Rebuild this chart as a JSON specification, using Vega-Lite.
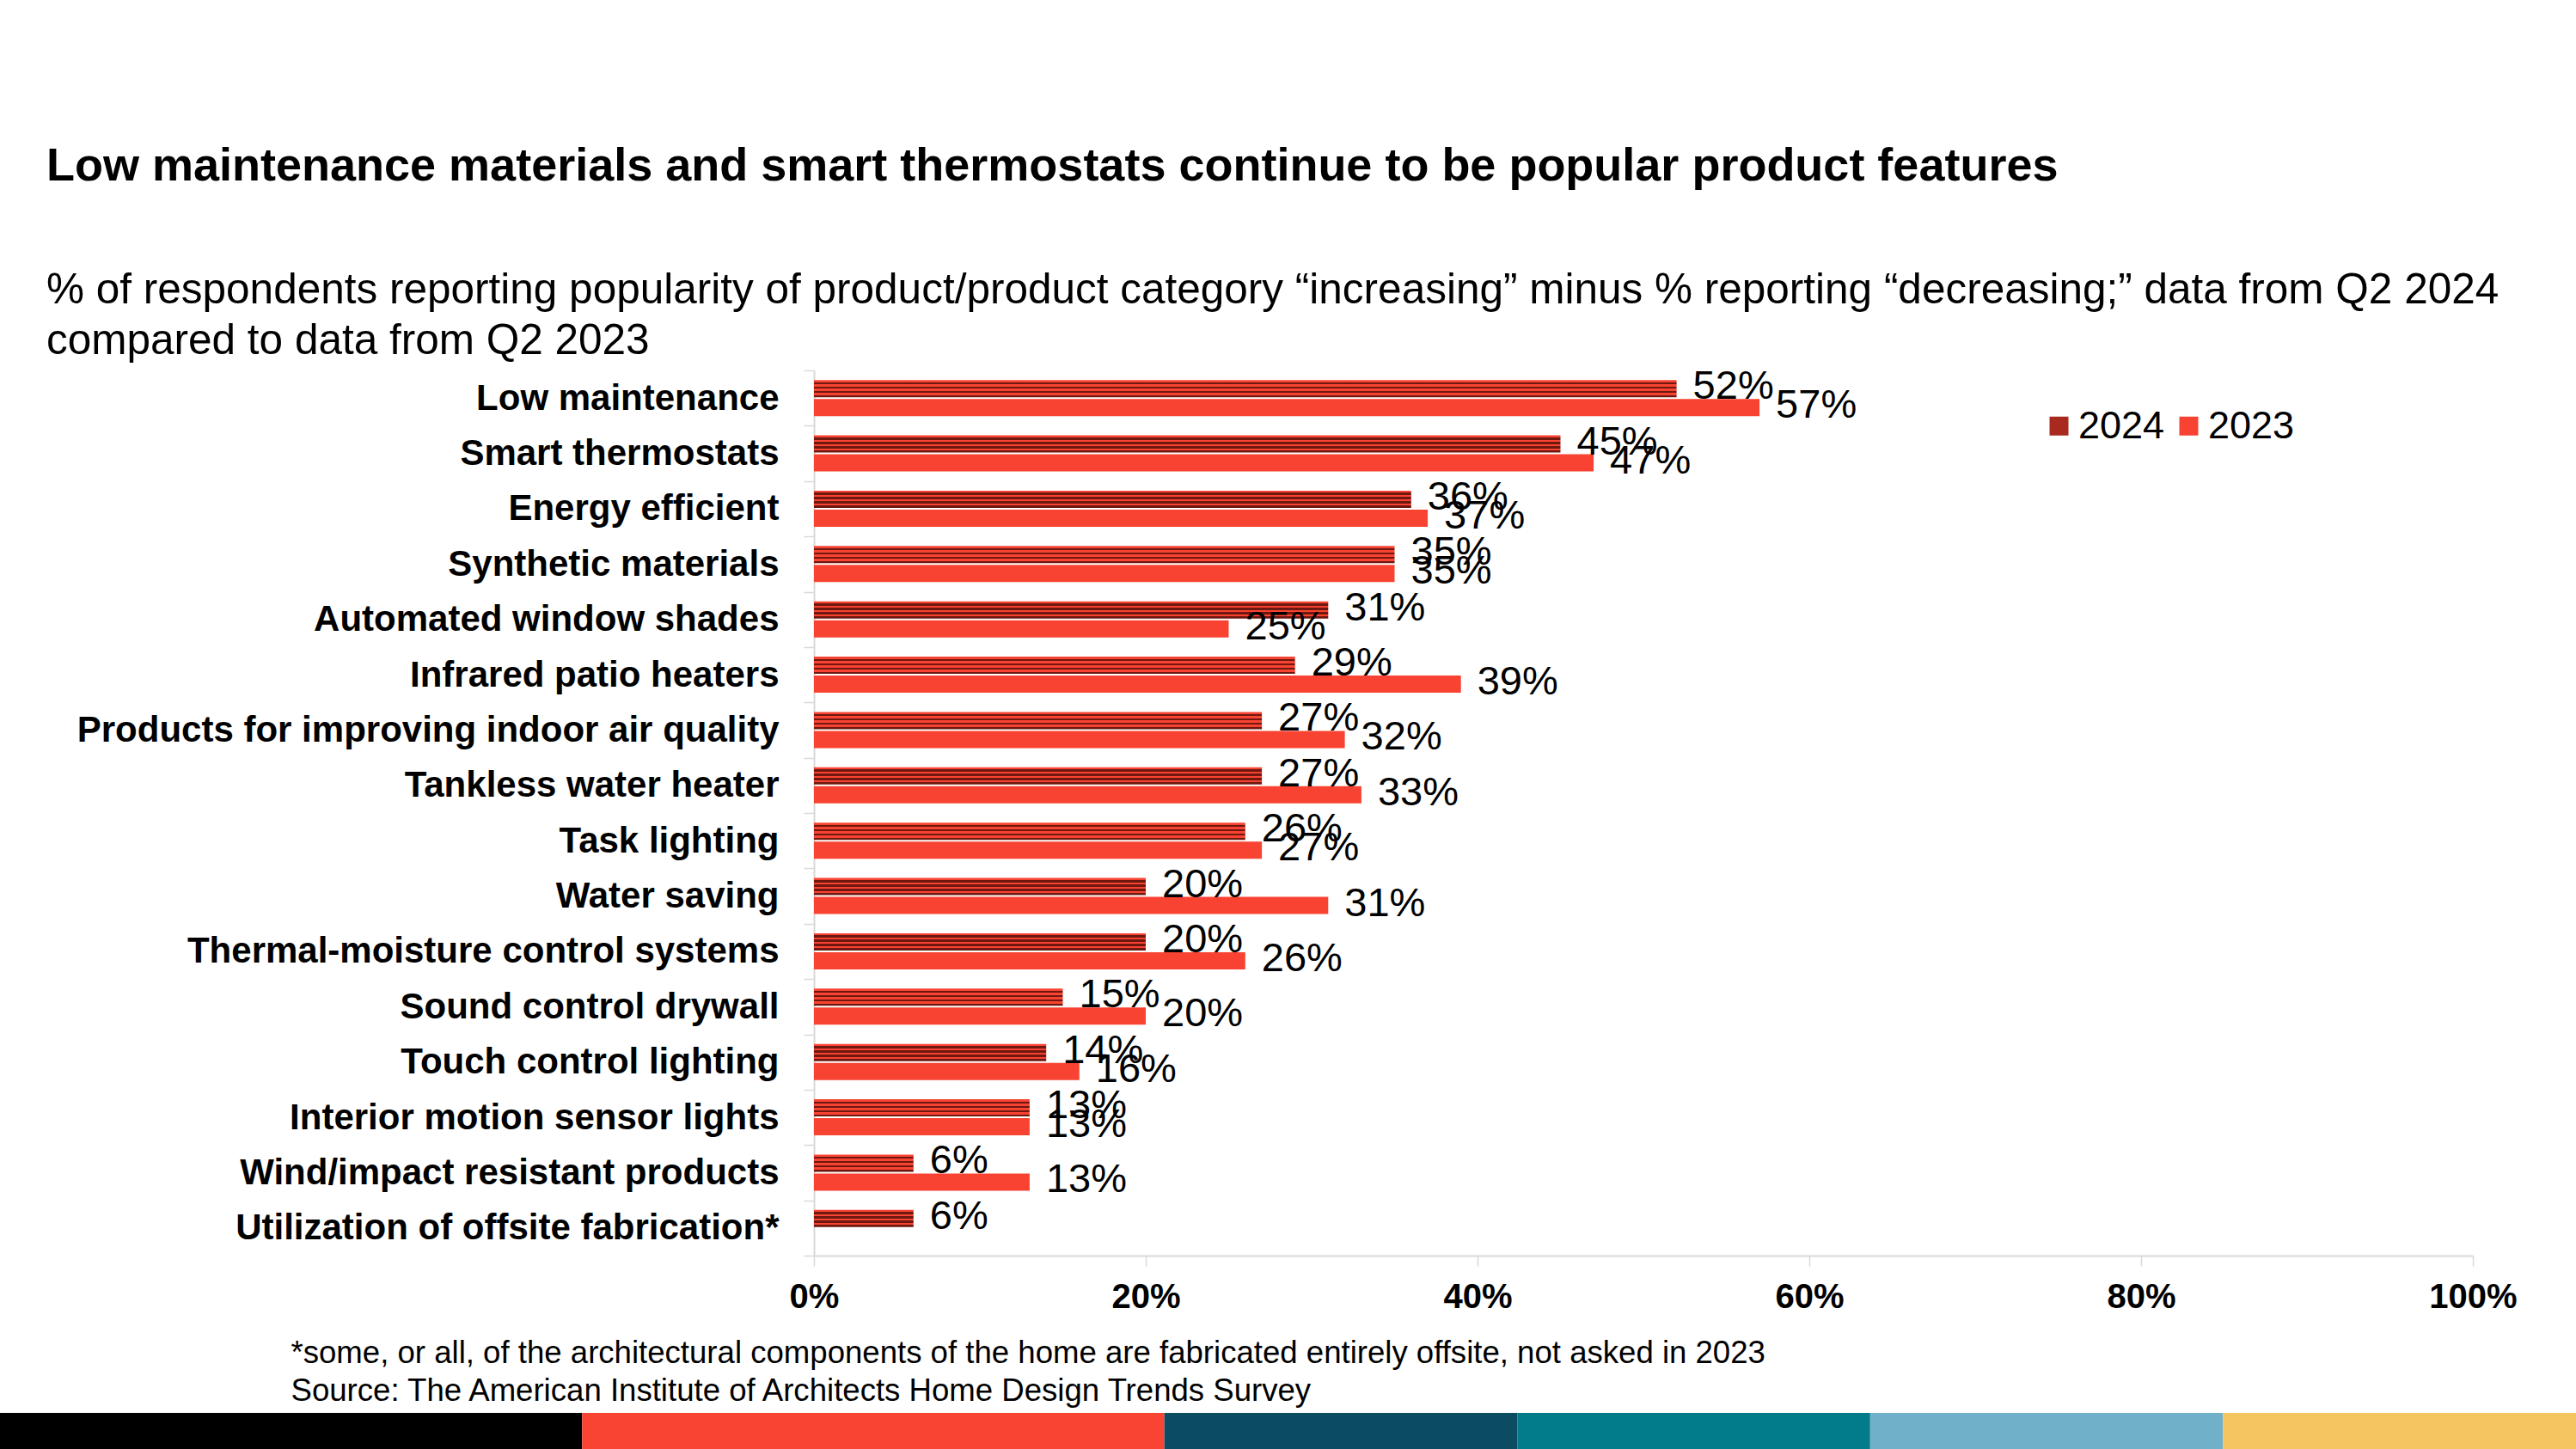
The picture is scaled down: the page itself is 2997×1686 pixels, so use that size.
{
  "$schema": "https://vega.github.io/schema/vega-lite/v6.json",
  "background": "white",
  "padding": {"left": 0, "top": 166, "right": 0, "bottom": 0},
  "spacing": 7,
  "config": {"view": {"stroke": null}, "font": "Liberation Sans"},
  "vconcat": [
    {
      "width": 2877,
      "height": 1030,
      "title": {
        "text": "Low maintenance materials and smart thermostats continue to be popular product features",
        "subtitle": ["% of respondents reporting popularity of product/product category “increasing” minus % reporting “decreasing;” data from Q2 2024", "compared to data from Q2 2023"],
        "anchor": "start",
        "frame": "group",
        "dx": 54,
        "font": "Liberation Sans",
        "fontSize": 54,
        "fontWeight": "bold",
        "color": "#000000",
        "subtitleFont": "Liberation Sans",
        "subtitleFontSize": 49.5,
        "subtitleColor": "#000000",
        "subtitlePadding": 93,
        "subtitleLineHeight": 59,
        "offset": -11
      },
      "data": {
        "values": [
          {"cat": "Low maintenance", "year": "2024", "value": 0.52},
          {"cat": "Low maintenance", "year": "2023", "value": 0.57},
          {"cat": "Smart thermostats", "year": "2024", "value": 0.45},
          {"cat": "Smart thermostats", "year": "2023", "value": 0.47},
          {"cat": "Energy efficient", "year": "2024", "value": 0.36},
          {"cat": "Energy efficient", "year": "2023", "value": 0.37},
          {"cat": "Synthetic materials", "year": "2024", "value": 0.35},
          {"cat": "Synthetic materials", "year": "2023", "value": 0.35},
          {"cat": "Automated window shades", "year": "2024", "value": 0.31},
          {"cat": "Automated window shades", "year": "2023", "value": 0.25},
          {"cat": "Infrared patio heaters", "year": "2024", "value": 0.29},
          {"cat": "Infrared patio heaters", "year": "2023", "value": 0.39},
          {"cat": "Products for improving indoor air quality", "year": "2024", "value": 0.27},
          {"cat": "Products for improving indoor air quality", "year": "2023", "value": 0.32},
          {"cat": "Tankless water heater", "year": "2024", "value": 0.27},
          {"cat": "Tankless water heater", "year": "2023", "value": 0.33},
          {"cat": "Task lighting", "year": "2024", "value": 0.26},
          {"cat": "Task lighting", "year": "2023", "value": 0.27},
          {"cat": "Water saving", "year": "2024", "value": 0.20},
          {"cat": "Water saving", "year": "2023", "value": 0.31},
          {"cat": "Thermal-moisture control systems", "year": "2024", "value": 0.20},
          {"cat": "Thermal-moisture control systems", "year": "2023", "value": 0.26},
          {"cat": "Sound control drywall", "year": "2024", "value": 0.15},
          {"cat": "Sound control drywall", "year": "2023", "value": 0.20},
          {"cat": "Touch control lighting", "year": "2024", "value": 0.14},
          {"cat": "Touch control lighting", "year": "2023", "value": 0.16},
          {"cat": "Interior motion sensor lights", "year": "2024", "value": 0.13},
          {"cat": "Interior motion sensor lights", "year": "2023", "value": 0.13},
          {"cat": "Wind/impact resistant products", "year": "2024", "value": 0.06},
          {"cat": "Wind/impact resistant products", "year": "2023", "value": 0.13},
          {"cat": "Utilization of offsite fabrication*", "year": "2024", "value": 0.06}
        ]
      },
      "layer": [
        {
          "mark": {"type": "bar"},
          "encoding": {
            "x": {
              "field": "value",
              "type": "quantitative",
              "scale": {"domain": [0, 1], "nice": false, "range": [947, 2877]},
              "axis": {
                "format": ".0%",
                "values": [0, 0.2, 0.4, 0.6, 0.8, 1],
                "grid": false,
                "labelFlush": false,
                "domainColor": "#d9d9d9",
                "domainWidth": 2,
                "tickColor": "#d9d9d9",
                "tickSize": 12,
                "tickWidth": 1.5,
                "labelFont": "Liberation Sans",
                "labelFontWeight": "bold",
                "labelFontSize": 40,
                "labelColor": "#000000",
                "labelPadding": 16,
                "title": ["*some, or all, of the architectural components of the home are fabricated entirely offsite, not asked in 2023", "Source: The American Institute of Architects Home Design Trends Survey"],
                "titleX": 338,
                "titleY": 95,
                "titleAlign": "left",
                "titleAnchor": "start",
                "titleBaseline": "top",
                "titleFont": "Liberation Sans",
                "titleFontSize": 36.6,
                "titleFontWeight": "normal",
                "titleColor": "#000000",
                "titleLineHeight": 44
              }
            },
            "y": {
              "field": "cat",
              "type": "nominal",
              "sort": null,
              "scale": {"paddingInner": 0, "paddingOuter": 0},
              "axis": {
                "title": null,
                "offset": -947,
                "domainColor": "#d9d9d9",
                "domainWidth": 2,
                "tickColor": "#d9d9d9",
                "tickSize": 12,
                "tickWidth": 1.5,
                "tickBand": "extent",
                "labelFont": "Liberation Sans",
                "labelFontWeight": "bold",
                "labelFontSize": 42,
                "labelColor": "#000000",
                "labelPadding": 29,
                "labelLimit": 1500
              }
            },
            "yOffset": {
              "field": "year",
              "type": "nominal",
              "sort": ["2024", "2023"],
              "scale": {"paddingInner": 0.0909, "paddingOuter": 0.511}
            },
            "fill": {
              "condition": {
                "test": "datum.year === '2024'",
                "value": {
                  "gradient": "linear",
                  "x1": 0, "y1": 0, "x2": 0, "y2": 1,
                  "stops": [
                    {"offset": 0, "color": "#f94332"},
                    {"offset": 0.125, "color": "#f94332"},
                    {"offset": 0.125, "color": "#6e1810"},
                    {"offset": 0.25, "color": "#6e1810"},
                    {"offset": 0.25, "color": "#f94332"},
                    {"offset": 0.375, "color": "#f94332"},
                    {"offset": 0.375, "color": "#6e1810"},
                    {"offset": 0.5, "color": "#6e1810"},
                    {"offset": 0.5, "color": "#f94332"},
                    {"offset": 0.625, "color": "#f94332"},
                    {"offset": 0.625, "color": "#6e1810"},
                    {"offset": 0.75, "color": "#6e1810"},
                    {"offset": 0.75, "color": "#f94332"},
                    {"offset": 0.875, "color": "#f94332"},
                    {"offset": 0.875, "color": "#6e1810"},
                    {"offset": 1, "color": "#6e1810"}
                  ]
                }
              },
              "field": "year",
              "type": "nominal",
              "sort": ["2024", "2023"],
              "scale": {"domain": ["2024", "2023"], "range": ["#a82a1e", "#f94332"]},
              "legend": {
                "title": null,
                "orient": "none",
                "legendX": 2373,
                "legendY": 42,
                "direction": "horizontal",
                "symbolType": "square",
                "symbolSize": 484,
                "symbolStrokeWidth": 0,
                "labelFont": "Liberation Sans",
                "labelFontSize": 45,
                "labelColor": "#000000",
                "labelOffset": 0,
                "columnPadding": 5
              }
            }
          }
        },
        {
          "mark": {"type": "text", "align": "left", "baseline": "middle", "dx": 19, "dy": -2, "fontSize": 47, "font": "Liberation Sans", "color": "#000000"},
          "encoding": {
            "x": {"field": "value", "type": "quantitative"},
            "y": {"field": "cat", "type": "nominal", "sort": null},
            "yOffset": {"field": "year", "type": "nominal", "sort": ["2024", "2023"]},
            "text": {"field": "value", "type": "quantitative", "format": ".0%"}
          }
        }
      ]
    },
    {
      "width": 2997,
      "height": 43,
      "data": {
        "values": [
          {"segment": "s1", "share": 22.6, "i": 1},
          {"segment": "s2", "share": 22.6, "i": 2},
          {"segment": "s3", "share": 13.7, "i": 3},
          {"segment": "s4", "share": 13.7, "i": 4},
          {"segment": "s5", "share": 13.7, "i": 5},
          {"segment": "s6", "share": 13.7, "i": 6}
        ]
      },
      "mark": {"type": "bar"},
      "encoding": {
        "x": {"field": "share", "type": "quantitative", "stack": "normalize", "axis": null, "scale": {"nice": false}},
        "y": {"datum": "strip", "type": "nominal", "axis": null, "scale": {"paddingInner": 0, "paddingOuter": 0}},
        "order": {"field": "i", "type": "quantitative"},
        "color": {
          "field": "segment",
          "type": "nominal",
          "scale": {"domain": ["s1", "s2", "s3", "s4", "s5", "s6"], "range": ["#000000", "#fa4433", "#0b4c63", "#027c8a", "#70b0c8", "#f3c660"]},
          "legend": null
        }
      }
    }
  ]
}
